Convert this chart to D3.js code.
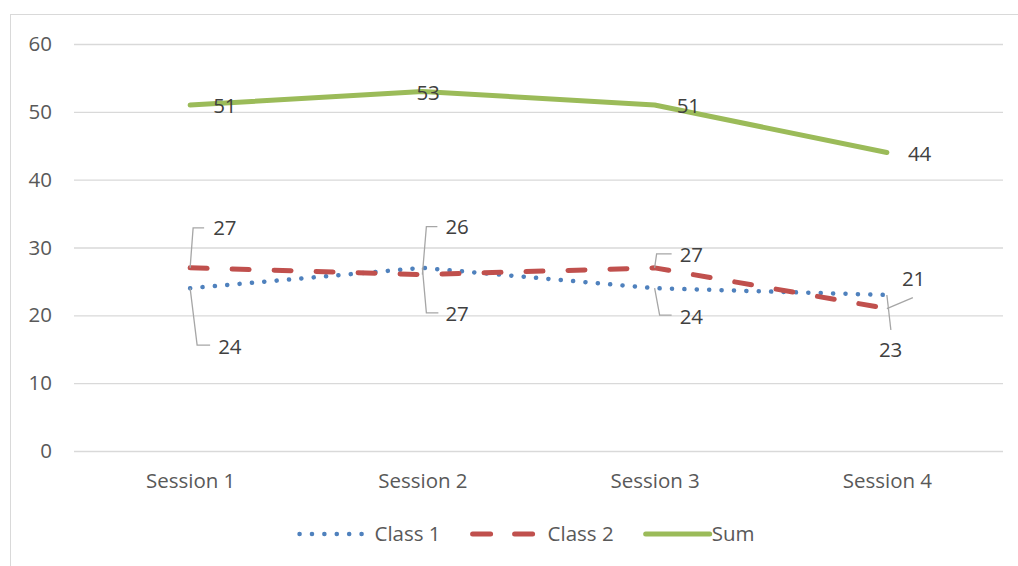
<!DOCTYPE html>
<html>
<head>
<meta charset="utf-8">
<script src="https://cdn.jsdelivr.net/npm/d3@7"></script>
<style>
  body { margin: 0; background: #fff; }
  text { font-family: "Open Sans", sans-serif; }
</style>
</head>
<body>
<div id="chart"></div>
<script>
var sessions = ["Session 1", "Session 2", "Session 3", "Session 4"];
var class1 = [24, 27, 24, 23];
var class2 = [27, 26, 27, 21];
var sum = [51, 53, 51, 44];
var yTicks = [0, 10, 20, 30, 40, 50, 60];

var width = 1018, height = 566;
var fontSize = "20.5px";

var series = [
    {name: "Class 1", values: class1, color: "#4F81BD", width: 4.5, dash: "0.1,12.3"},
    {name: "Class 2", values: class2, color: "#C0504D", width: 5, dash: "17,25"},
    {name: "Sum", values: sum, color: "#9BBB59", width: 5, dash: null}
];

// label placement relative to each point: text offset + leader path
var labelLayout = [
    // Class 1
    [{dx: 28, dy: 59, leader: [[0, 0], [7, 57], [20, 57]]},
     {dx: 23, dy: 46, leader: [[0, 0], [4, 45], [16, 45]]},
     {dx: 25, dy: 29, leader: [[0, 0], [5, 27], [17, 27]]},
     {dx: -8, dy: 55, leader: [[0, 0], [4, 35]]}],
    // Class 2
    [{dx: 23, dy: -40, leader: [[0, 0], [3, -40], [14, -40]]},
     {dx: 23, dy: -48, leader: [[0, 0], [4, -48], [15, -48]]},
     {dx: 25, dy: -13, leader: [[0, 0], [2, -14], [17, -14]]},
     {dx: 15, dy: -30, leader: [[0, 0], [26, -11]]}],
    // Sum
    [{dx: 23, dy: 1, leader: null},
     {dx: -6, dy: 1, leader: null},
     {dx: 22, dy: 1, leader: null},
     {dx: 21, dy: 1, leader: null}]
];

var svg = d3.select("#chart").append("svg")
    .attr("width", width)
    .attr("height", height);

// chart frame (cropped at right and bottom)
svg.append("rect")
    .attr("x", 10.5).attr("y", 14.5)
    .attr("width", 1030).attr("height", 600)
    .attr("fill", "none")
    .attr("stroke", "#d9d9d9");

var x = d3.scalePoint().domain(sessions)
    .range([74, 1003]).padding(0.5);
var y = d3.scaleLinear().domain([0, 60]).range([451, 44]);

// gridlines
svg.append("g")
    .selectAll("line").data(yTicks).enter().append("line")
    .attr("x1", 74).attr("x2", 1003)
    .attr("y1", function(d){ return y(d) + 0.5; })
    .attr("y2", function(d){ return y(d) + 0.5; })
    .attr("stroke", "#d9d9d9").attr("stroke-width", 1.3);

// y axis labels
var yAxis = d3.axisLeft(y).tickValues(yTicks).tickSize(0).tickPadding(0);
var yg = svg.append("g").attr("transform", "translate(52,0)").call(yAxis);
yg.select(".domain").remove();
yg.selectAll("text").attr("fill", "#595959").style("font-size", fontSize)
    .style("font-family", "'Open Sans', sans-serif");

// x axis labels
var xAxis = d3.axisBottom(x).tickSize(0).tickPadding(0);
var xg = svg.append("g").attr("transform", "translate(0,473)").call(xAxis);
xg.select(".domain").remove();
xg.selectAll("text").attr("fill", "#595959").style("font-size", fontSize)
    .style("font-family", "'Open Sans', sans-serif");

var line = d3.line()
    .x(function(d, i){ return x(sessions[i]); })
    .y(function(d){ return y(d); });

series.forEach(function(s){
    svg.append("path")
        .datum(s.values)
        .attr("d", line)
        .attr("fill", "none")
        .attr("stroke", s.color)
        .attr("stroke-width", s.width)
        .attr("stroke-linecap", "round")
        .attr("stroke-linejoin", "round")
        .attr("stroke-dasharray", s.dash);
});

// data labels
series.forEach(function(s, si){
    s.values.forEach(function(v, i){
        var px = x(sessions[i]), py = y(v), lay = labelLayout[si][i];
        if (lay.leader) {
            svg.append("path")
                .attr("d", d3.line()(lay.leader.map(function(p){ return [px + p[0], py + p[1]]; })))
                .attr("fill", "none")
                .attr("stroke", "#a6a6a6")
                .attr("stroke-width", 1.3);
        }
        svg.append("text")
            .attr("x", px + lay.dx)
            .attr("y", py + lay.dy)
            .attr("dy", "0.35em")
            .attr("fill", "#404040")
            .style("font-size", fontSize)
            .text(v);
    });
});

// legend
var legend = svg.append("g");
var lx = 0;
series.forEach(function(s, si){
    var g = legend.append("g").attr("transform", "translate(" + lx + ",0)");
    g.append("line")
        .attr("x1", 2).attr("x2", 66)
        .attr("y1", 0).attr("y2", 0)
        .attr("stroke", s.color)
        .attr("stroke-width", s.width)
        .attr("stroke-linecap", "round")
        .attr("stroke-dasharray", s.name === "Class 2" ? "18,24" : s.dash);
    var tx = s.name === "Sum" ? 68 : 77;
    var t = g.append("text")
        .attr("x", tx)
        .attr("dy", "0.35em")
        .attr("fill", "#595959")
        .style("font-size", fontSize)
        .text(s.name);
    lx += tx + t.node().getComputedTextLength() + 30;
});
var lw = lx - 30;
legend.attr("transform", "translate(" + (526 - lw / 2) + ",534)");
</script>
</body>
</html>
